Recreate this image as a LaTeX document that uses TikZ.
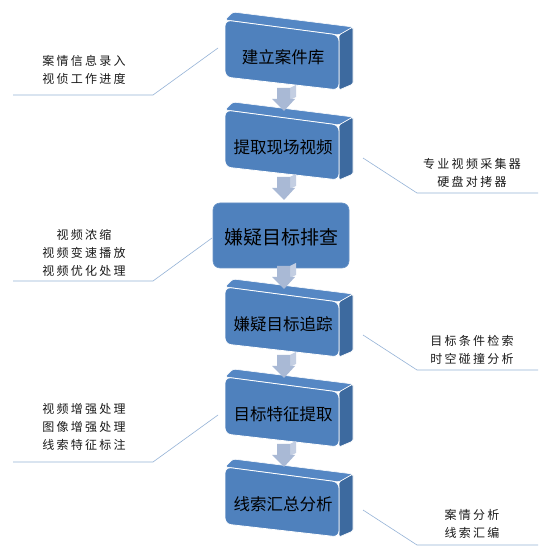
\documentclass[tikz,border=0pt]{standalone}
\usepackage{fontspec}
\newfontfamily\cjk{Noto Sans CJK SC}
\newfontfamily\cjknote[LetterSpace=19]{Noto Sans CJK SC}
\definecolor{boxblue}{HTML}{4F81BD}
\definecolor{topblue}{HTML}{5587C4}
\definecolor{sideblue}{HTML}{3D6A9F}
\definecolor{arrowgray}{HTML}{A9B9D5}
\definecolor{arrowsidec}{HTML}{C3CEE2}
\definecolor{leaderblue}{HTML}{95B3D7}
\definecolor{notegray}{HTML}{1A1A1A}
\tikzset{
  frontface/.style={fill=boxblue, draw=white, line width=0.8pt, rounded corners=6pt},
  topface/.style={fill=topblue, draw=white, line width=0.6pt, rounded corners=2.5pt},
  sideface/.style={fill=sideblue, draw=white, line width=0.6pt, rounded corners=1.5pt},
  flatbox/.style={fill=boxblue, draw=boxblue!85!white, line width=0.6pt, rounded corners=7pt,
    minimum width=136pt, minimum height=65pt, inner sep=0pt},
  arrowfront/.style={fill=arrowgray},
  arrowside/.style={fill=arrowsidec},
  boxtitle/.style={font=\cjk\fontsize{16.5}{16.5}\selectfont, text=black, inner sep=0pt},
  bigtitle/.style={font=\cjk\fontsize{19}{19}\selectfont, text=black},
  note/.style={font=\cjknote\fontsize{12}{18}\selectfont, align=center, text=notegray, inner sep=0pt},
  leader/.style={draw=leaderblue, line width=0.6pt},
}
\newcommand\boxthreed[3]{%
  \begin{scope}[shift={(0,#1)}]
    \path[topface] (225,20) -- (233,12) -- (353,27) -- (339,35) -- cycle;
    \path[sideface] (339,35) -- (353,27) -- (353,84) -- (339,90) -- cycle;
    \path[frontface] (225,20) -- (339,35) -- (339,90) -- (225,77) -- cycle;
    \node[boxtitle] (#2) at (283,57) {#3};
  \end{scope}}
\newcommand\flowarrow[1]{%
  \begin{scope}[shift={(0,#1)}]
    \path[arrowside] (290,-23) -- (296,-26) -- (296,-14) -- (290,-11) -- cycle;
    \path[arrowfront] (277,-23) -- (290,-23) -- (290,-12) -- (295,-12) -- (284,0)
      -- (272,-12) -- (277,-12) -- cycle;
  \end{scope}}
\begin{document}
\begin{tikzpicture}[x=1pt,y=-1pt]
  \useasboundingbox[fill=white] (0,0) rectangle (558,556);
  % boxes
  \boxthreed{0}{b1}{建立案件库}
  \boxthreed{90}{b2}{提取现场视频}
  \node[flatbox] (b3) at (281,235.5) {};
  \node[bigtitle] (t3) at (281,237) {嫌疑目标排查};
  \boxthreed{267}{b4}{嫌疑目标追踪}
  \boxthreed{357}{b5}{目标特征提取}
  \boxthreed{447}{b6}{线索汇总分析}
  % arrows
  \flowarrow{111}
  \flowarrow{200}
  \flowarrow{289}
  \flowarrow{378}
  \flowarrow{467}
  % notes
  \node[note] (n1) at (84,70) {案情信息录入\\视侦工作进度};
  \node[note] (n2) at (472,172.5) {专业视频采集器\\硬盘对拷器};
  \node[note] (n3) at (84,252.5) {视频浓缩\\视频变速播放\\视频优化处理};
  \node[note] (n4) at (472,350) {目标条件检索\\时空碰撞分析};
  \node[note] (n5) at (84,427) {视频增强处理\\图像增强处理\\线索特征标注};
  \node[note] (n6) at (472,524) {案情分析\\线索汇编};
  % leader lines
  \coordinate (l1a) at (218,48);  \coordinate (l1b) at (153,95);  \coordinate (l1c) at (13,95);
  \coordinate (l2a) at (363,158); \coordinate (l2b) at (417,193); \coordinate (l2c) at (538,193);
  \coordinate (l3a) at (212,238); \coordinate (l3b) at (153,281); \coordinate (l3c) at (13,281);
  \coordinate (l4a) at (363,335); \coordinate (l4b) at (417,370); \coordinate (l4c) at (538,370);
  \coordinate (l5a) at (218,415); \coordinate (l5b) at (153,462); \coordinate (l5c) at (13,462);
  \coordinate (l6a) at (363,510); \coordinate (l6b) at (417,545); \coordinate (l6c) at (538,545);
  \draw[leader] (l1a) -- (l1b) -- (l1c);
  \draw[leader] (l2a) -- (l2b) -- (l2c);
  \draw[leader] (l3a) -- (l3b) -- (l3c);
  \draw[leader] (l4a) -- (l4b) -- (l4c);
  \draw[leader] (l5a) -- (l5b) -- (l5c);
  \draw[leader] (l6a) -- (l6b) -- (l6c);
\end{tikzpicture}
\end{document}
